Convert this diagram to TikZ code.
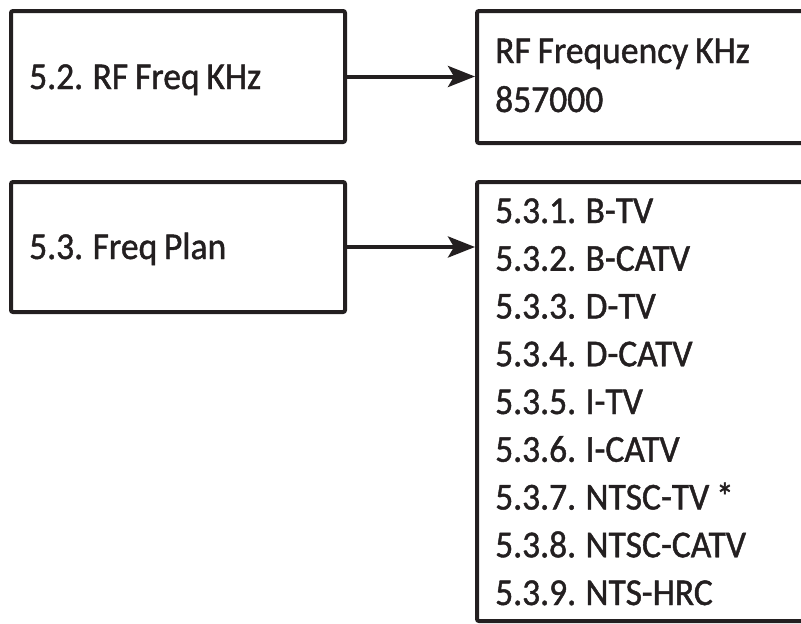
\documentclass[tikz,border=0pt]{standalone}
\usepackage{fontspec}
\usepackage{graphicx}
\setmainfont{Carlito}[FakeBold=1.2, WordSpace=0.85]
\usetikzlibrary{arrows.meta}
\definecolor{ink}{HTML}{231F20}
\newcommand{\narrowtxt}[1]{\scalebox{0.935}[1]{#1}}
\begin{document}
\begin{tikzpicture}[x=1pt,y=-1pt,
  box/.style={draw=ink, line width=4pt, rounded corners=2pt, inner sep=0pt, anchor=north west},
  lbl/.style={font=\fontsize{38}{47.5}\selectfont, text=ink, anchor=base west, inner sep=0pt},
  conn/.style={draw=ink, line width=4pt, -{Stealth[length=27pt, width=21pt, inset=6pt]}}]
\useasboundingbox (0,0) rectangle (801,624);
\clip (0,0) rectangle (801,624);
\node[box, minimum width=334pt, minimum height=131pt] (b1) at (9,9) {};
\node[box, minimum width=334pt, minimum height=130pt] (b2) at (9,180) {};
\node[box, minimum width=400pt, minimum height=132pt] (r1) at (475,9) {};
\node[box, minimum width=400pt, minimum height=439pt] (r2) at (475,180) {};
\node[lbl] (t1) at (29,89) {\narrowtxt{5.2. RF Freq KHz}};
\node[lbl] (t2) at (29,259) {\narrowtxt{5.3. Freq Plan}};
\node[lbl] (u1) at (495,63) {\narrowtxt{RF Frequency KHz}};
\node[lbl] (u2) at (495,112) {\narrowtxt{857000}};
\node[lbl] (l1) at (495,223) {\narrowtxt{5.3.1. B-TV}};
\node[lbl] (l2) at (495,270.75) {\narrowtxt{5.3.2. B-CATV}};
\node[lbl] (l3) at (495,318.5) {\narrowtxt{5.3.3. D-TV}};
\node[lbl] (l4) at (495,366.25) {\narrowtxt{5.3.4. D-CATV}};
\node[lbl] (l5) at (495,414) {\narrowtxt{5.3.5. I-TV}};
\node[lbl] (l6) at (495,461.75) {\narrowtxt{5.3.6. I-CATV}};
\node[lbl] (l7) at (495,509.5) {\narrowtxt{5.3.7. NTSC-TV *}};
\node[lbl] (l8) at (495,557.25) {\narrowtxt{5.3.8. NTSC-CATV}};
\node[lbl] (l9) at (495,605) {\narrowtxt{5.3.9. NTS-HRC}};
\draw[conn] (b1.east) -- (b1.east -| r1.west);
\draw[conn] (b2.east) -- (b2.east -| r2.west);
\end{tikzpicture}
\end{document}
